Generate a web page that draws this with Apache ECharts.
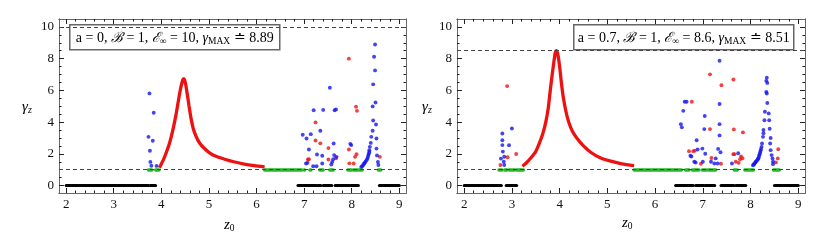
<!DOCTYPE html>
<html><head><meta charset="utf-8">
<script src="https://cdn.jsdelivr.net/npm/echarts@6/dist/echarts.min.js"></script>
<style>html,body{margin:0;padding:0;background:#fff}#c{width:830px;height:246px}</style>
</head><body><div id="c"></div><script>
// ---- tick labels ----
const xTicks = [2, 3, 4, 5, 6, 7, 8, 9];
const yTicks = [0, 2, 4, 6, 8, 10];

// ---- left panel (a = 0) ----
const leftBlack = [[2.0,3.73],[3.77,3.88],[6.87,7.26],[7.29,7.35],[7.40,7.58],[7.65,7.95],[7.98,8.14],[8.58,9.0]];
const leftGreen = [[3.73,3.80],[3.88,3.95],[6.17,6.95],[7.00,7.01],[7.12,7.14],[7.33,7.40],[7.54,7.61],[7.92,8.00],[8.04,8.07],[8.10,8.22],[8.56,8.61]];
const leftCurve = [[3.96,1.12],[3.99,1.3],[4.04,1.6],[4.10,2.05],[4.16,2.55],[4.21,3.1],[4.26,3.75],[4.31,4.5],[4.35,5.2],[4.39,5.9],[4.43,6.45],[4.46,6.72],[4.48,6.72],[4.51,6.4],[4.54,5.85],[4.58,5.05],[4.62,4.3],[4.67,3.6],[4.73,3.1],[4.80,2.7],[4.90,2.35],[5.02,2.05],[5.16,1.83],[5.33,1.66],[5.52,1.5],[5.74,1.35],[5.95,1.25],[6.17,1.17]];
const leftBlue = [[3.73,3.07],[3.75,5.81],[3.76,2.19],[3.77,1.49],[3.79,1.25],[3.82,2.82],[3.84,4.59],[3.90,1.24],
 [6.97,3.2],[7.04,1.39],[7.05,2.97],[7.07,1.43],[7.10,2.27],[7.14,3.24],[7.19,1.22],[7.20,4.75],[7.26,1.22],[7.27,1.96],[7.34,3.45],[7.38,1.88],[7.38,1.39],[7.40,4.77],[7.54,6.17],[7.57,1.33],[7.59,1.49],[7.61,1.66],[7.62,2.65],[7.63,1.92],[7.64,4.75],[7.67,4.8],[7.68,1.81],[7.97,2.63],[7.99,2.55],
 [8.20,1.18],[8.22,1.22],[8.24,1.3],[8.26,1.37],[8.27,1.43],[8.29,1.5],[8.31,1.6],[8.33,1.7],[8.34,1.81],[8.35,1.92],[8.36,2.02],[8.37,2.12],[8.37,2.23],[8.38,2.44],[8.40,2.69],[8.41,3.07],[8.44,3.45],[8.44,4.99],[8.45,4.1],[8.45,6.38],[8.47,8.12],[8.49,8.89],[8.49,7.26],[8.50,5.24],[8.51,3.85],[8.52,2.97],[8.52,2.33],[8.53,1.9],[8.55,1.49],[8.56,1.3]];
const leftRed = [[7.08,1.64],[7.10,1.66],[7.24,3.98],[7.24,2.84],[7.34,2.66],[7.51,2.36],[7.51,1.64],[7.67,1.72],[7.94,8.0],[7.94,2.27],[7.95,1.4],[8.04,1.39],[8.07,1.81],[8.09,4.97],[8.10,1.98],[8.11,4.71],[8.59,1.81]];
const leftDashes = [1, 10];

// ---- right panel (a = 0.7) ----
const rightBlack = [[2.0,2.78],[2.88,3.10],[6.43,6.80],[6.85,7.02],[7.05,7.25],[7.38,7.65],[7.69,7.90],[8.50,9.0]];
const rightGreen = [[2.73,2.79],[2.85,2.90],[2.95,3.06],[3.10,3.24],[5.56,6.55],[6.64,6.71],[6.78,6.92],[6.99,7.06],[7.10,7.17],[7.20,7.27],[7.66,7.72],[7.88,8.06],[8.48,8.60]];
const rightCurve = [[3.22,1.22],[3.30,1.42],[3.40,1.75],[3.50,2.15],[3.58,2.7],[3.65,3.3],[3.71,4.0],[3.76,4.85],[3.80,5.9],[3.84,6.9],[3.88,7.8],[3.91,8.4],[3.93,8.51],[3.96,8.3],[4.00,7.5],[4.04,6.4],[4.08,5.5],[4.13,4.7],[4.19,4.0],[4.27,3.4],[4.37,2.95],[4.50,2.5],[4.65,2.1],[4.85,1.75],[5.05,1.55],[5.30,1.37],[5.56,1.25]];
const rightBlue = [[2.77,1.7],[2.80,3.28],[2.80,2.86],[2.80,2.55],[2.81,2.14],[2.83,1.5],[2.84,1.82],[2.84,1.3],[2.94,2.54],[3.0,3.6],
 [6.54,3.87],[6.56,3.67],[6.59,4.71],[6.62,5.28],[6.66,5.28],[6.74,1.88],[6.76,1.83],[6.82,1.5],[6.85,1.45],[6.87,2.86],[6.89,2.27],[6.99,2.33],[7.00,1.5],[7.03,3.56],[7.04,4.38],[7.05,2.0],[7.17,1.5],[7.24,1.39],[7.27,1.71],[7.31,1.39],[7.32,2.31],[7.35,3.16],[7.35,3.87],[7.35,5.14],[7.35,7.87],[7.37,2.1],[7.61,1.39],[7.74,2.04],
 [8.05,1.28],[8.07,1.33],[8.08,1.39],[8.10,1.45],[8.11,1.5],[8.13,1.57],[8.15,1.64],[8.16,1.7],[8.17,1.77],[8.18,1.88],[8.19,1.98],[8.20,2.08],[8.21,2.19],[8.22,2.3],[8.23,2.44],[8.24,2.65],[8.26,3.07],[8.27,3.3],[8.27,3.5],[8.29,4.12],[8.30,4.65],[8.33,5.9],[8.34,5.8],[8.33,6.6],[8.34,6.8],[8.35,6.47],[8.35,5.2],[8.38,4.55],[8.39,4.12],[8.40,3.58],[8.41,2.65],[8.42,2.23],[8.42,3.0],[8.44,1.92],[8.46,1.71],[8.47,1.5],[8.47,1.35]];
const rightRed = [[2.76,1.3],[2.90,6.27],[2.91,1.78],[3.09,1.99],[6.71,2.17],[6.77,5.28],[6.80,2.17],[6.83,2.2],[6.96,1.37],[7.15,7.01],[7.15,3.56],[7.18,1.74],[7.38,1.37],[7.39,6.32],[7.64,6.69],[7.64,1.98],[7.65,3.54],[7.66,1.98],[7.69,1.5],[7.75,1.43],[7.78,1.66],[7.80,1.83],[7.83,1.72],[7.84,3.35],[8.53,1.46],[8.57,1.71],[8.58,2.29]];
const rightDashes = [1, 8.51];

// ---- styling / layout ----
const XMIN = 1.85, XMAX = 9.14, YMIN = -0.47, YMAX = 10.5;
const RED = '#ee1111', BLUE = '#1515ee', GREEN = '#2bb52b';
const FRAME = '#666';
const serif = 'Liberation Serif';
const xMinor = [], yMinor = [];
for (let i = 0; i <= 40; i++) { const v = +(1.8 + i * 0.2).toFixed(2); if (v > XMIN && v < XMAX) xMinor.push(v); }
for (let i = 0; i <= 22; i++) { const v = +(i * 0.5).toFixed(2); if (v > YMIN && v < YMAX) yMinor.push(v); }

const grids = [
  { left: 59, top: 19, width: 347, height: 174 },
  { left: 457, top: 19, width: 348, height: 174 }
];
const xAxes = [], yAxes = [];
grids.forEach((g, gi) => {
  const base = (pos, major, showLabel, isX) => ({
    type: 'value', gridIndex: gi, position: pos, offset: 0,
    min: isX ? XMIN : YMIN, max: isX ? XMAX : YMAX,
    splitLine: { show: false },
    axisLine: { show: true, onZero: false, lineStyle: { color: FRAME, width: 1 } },
    axisTick: { show: true, inside: true, length: major ? 5 : 2.5, customValues: major ? (isX ? xTicks : yTicks) : (isX ? xMinor : yMinor), lineStyle: { color: '#222', width: 1 } },
    axisLabel: { show: showLabel, customValues: isX ? xTicks : yTicks, fontFamily: serif, fontSize: 13, color: '#111', margin: 5, showMinLabel: true, showMaxLabel: true },
  });
  xAxes.push(base('bottom', true, true, true), base('bottom', false, false, true), base('top', true, false, true), base('top', false, false, true));
  yAxes.push(base('left', true, true, false), base('left', false, false, false), base('right', true, false, false), base('right', false, false, false));
});

function segsAt(arr, y) { return arr.map(s => ({ coords: [[s[0], y], [s[1], y]] })); }

const panels = [
  { black: leftBlack, green: leftGreen, curve: leftCurve, blue: leftBlue, red: leftRed, dashes: leftDashes },
  { black: rightBlack, green: rightGreen, curve: rightCurve, blue: rightBlue, red: rightRed, dashes: rightDashes }
];
const series = [];
panels.forEach((p, gi) => {
  const ax = { xAxisIndex: gi * 4, yAxisIndex: gi * 4 };
  series.push({
    type: 'lines', coordinateSystem: 'cartesian2d', ...ax, silent: true, z: 2,
    data: segsAt(p.black, 0), lineStyle: { color: '#000', width: 3, cap: 'round', opacity: 1 },
    markLine: { silent: true, symbol: 'none', animation: false, label: { show: false },
      lineStyle: { color: '#444', width: 1, type: [4, 3] },
      data: p.dashes.map(v => ({ yAxis: v })) }
  });
  series.push({ type: 'line', ...ax, data: p.curve, smooth: 0.25, showSymbol: false, z: 3,
    lineStyle: { color: RED, width: 3.3 }, animation: false });
  series.push({ type: 'lines', coordinateSystem: 'cartesian2d', ...ax, silent: true, z: 4,
    data: segsAt(p.green, 1), lineStyle: { color: GREEN, width: 3.5, cap: 'round', opacity: 1 } });
  series.push({ type: 'scatter', ...ax, data: p.red, symbolSize: 3.9, itemStyle: { color: RED }, z: 5, animation: false });
  series.push({ type: 'scatter', ...ax, data: p.blue, symbolSize: 3.9, itemStyle: { color: BLUE }, z: 5, animation: false });
});

const rich = {
  n: { fontFamily: serif, fontSize: 14, color: '#111' },
  s: { fontFamily: serif, fontSize: 14, color: '#111', fontStyle: 'italic' },
  i: { fontFamily: serif, fontSize: 14, color: '#111', fontStyle: 'italic' },
  ib: { fontFamily: serif, fontSize: 15, color: '#111', fontStyle: 'italic' },
  sub: { fontFamily: serif, fontSize: 9.5, color: '#111', padding: [6, 0, 0, 0] },
  subi: { fontFamily: serif, fontSize: 10, color: '#111', fontStyle: 'italic', padding: [6, 0, 0, 0] }
};
function legendBox(x, y, w, h, txt) {
  return { type: 'group', left: x, top: y, z: 100, children: [
    { type: 'rect', shape: { x: 0, y: 0, width: w, height: h }, style: { fill: '#fff', stroke: '#666', lineWidth: 1.5 } },
    { type: 'text', x: w / 2, y: h / 2 + 1, style: { text: txt, rich: rich, align: 'center', verticalAlign: 'middle' } }
  ]};
}
const graphic = [
  legendBox(69, 24, 210, 25, '{n|a = 0, }{s|ℬ}{n| = 1, }{s|ℰ}{sub|∞}{n| = 10, }{i|γ}{sub|MAX}{n| ≐ 8.89}'),
  legendBox(573, 24, 220, 25, '{n|a = 0.7, }{s|ℬ}{n| = 1, }{s|ℰ}{sub|∞}{n| = 8.6, }{i|γ}{sub|MAX}{n| ≐ 8.51}'),
  { type: 'text', left: 22, top: 100, style: { text: '{ib|γ}{subi|z}', rich: rich } },
  { type: 'text', left: 422, top: 100, style: { text: '{ib|γ}{subi|z}', rich: rich } },
  { type: 'text', left: 224, top: 218, style: { text: '{ib|z}{sub|0}', rich: rich } },
  { type: 'text', left: 622, top: 216, style: { text: '{ib|z}{sub|0}', rich: rich } }
];

const chart = echarts.init(document.getElementById('c'), null, { renderer: 'canvas' });
chart.setOption({ animation: false, backgroundColor: '#fff', grid: grids, xAxis: xAxes, yAxis: yAxes, series: series, graphic: graphic });
</script></body></html>
